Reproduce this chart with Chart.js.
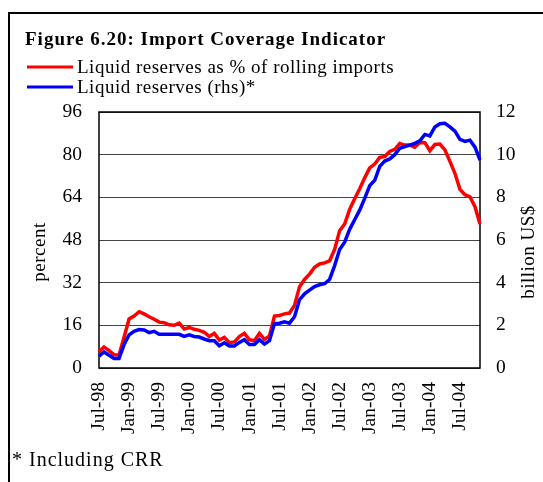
<!DOCTYPE html>
<html>
<head>
<meta charset="utf-8">
<script src="https://cdn.jsdelivr.net/npm/chart.js@4"></script>
<style>
body { margin: 0; background: #fff; }
#wrap { position: relative; width: 543px; height: 482px; overflow: hidden; }
#frame { position: absolute; left: 8px; top: 12px; width: 700px; height: 700px; border-top: 2px solid #000; border-left: 2px solid #000; }
canvas { position: absolute; left: 0; top: 0; }
</style>
</head>
<body>
<div id="wrap">
	<div id="frame"></div>
	<canvas id="coverageChart" width="543" height="482"></canvas>
</div>
<script>
// Data
const months = [
	'Jul-98','Aug-98','Sep-98','Oct-98','Nov-98','Dec-98',
	'Jan-99','Feb-99','Mar-99','Apr-99','May-99','Jun-99','Jul-99','Aug-99','Sep-99','Oct-99','Nov-99','Dec-99',
	'Jan-00','Feb-00','Mar-00','Apr-00','May-00','Jun-00','Jul-00','Aug-00','Sep-00','Oct-00','Nov-00','Dec-00',
	'Jan-01','Feb-01','Mar-01','Apr-01','May-01','Jun-01','Jul-01','Aug-01','Sep-01','Oct-01','Nov-01','Dec-01',
	'Jan-02','Feb-02','Mar-02','Apr-02','May-02','Jun-02','Jul-02','Aug-02','Sep-02','Oct-02','Nov-02','Dec-02',
	'Jan-03','Feb-03','Mar-03','Apr-03','May-03','Jun-03','Jul-03','Aug-03','Sep-03','Oct-03','Nov-03','Dec-03',
	'Jan-04','Feb-04','Mar-04','Apr-04','May-04','Jun-04','Jul-04','Aug-04','Sep-04','Oct-04','Nov-04'
];

// Liquid reserves as % of rolling imports (lhs, percent)
const coveragePct = [
	6.1, 7.9, 6.5, 5, 4.9, 11.5, 18.4, 19.5, 21.1, 20.3,
	19.2, 18.3, 17.2, 17, 16.2, 16, 16.8, 14.6, 15.2, 14.5,
	14.1, 13.4, 11.8, 13, 10.5, 11.5, 9.5, 9.8, 11.8, 13,
	10.6, 10.2, 13, 10.7, 12, 19.5, 19.7, 20.3, 20.6, 23.5,
	30.5, 33.2, 35.2, 37.8, 39, 39.4, 40.2, 44.5, 51.5, 54,
	59.5, 63.5, 67.2, 71.3, 75, 76.5, 79, 79.3, 81.2, 82,
	84.2, 83.6, 83.6, 82.8, 84.6, 84.5, 81.5, 83.8, 84, 81.8,
	77.5, 73, 67, 65, 64.2, 60.5, 54
];

// Liquid reserves (rhs, billion US$)
const reservesBn = [
	0.55, 0.75, 0.6, 0.45, 0.45, 1.1, 1.55, 1.72, 1.8, 1.78,
	1.66, 1.72, 1.58, 1.58, 1.58, 1.58, 1.58, 1.48, 1.55, 1.48,
	1.45, 1.36, 1.28, 1.28, 1.04, 1.18, 1.03, 1.03, 1.2, 1.33,
	1.1, 1.1, 1.33, 1.12, 1.28, 2.08, 2.1, 2.16, 2.1, 2.4,
	3.2, 3.48, 3.65, 3.82, 3.9, 3.95, 4.15, 4.8, 5.55, 5.9,
	6.5, 6.95, 7.4, 7.95, 8.55, 8.8, 9.45, 9.7, 9.8, 10.0,
	10.3, 10.38, 10.45, 10.53, 10.65, 10.95, 10.88, 11.3, 11.45, 11.47,
	11.3, 11.1, 10.72, 10.62, 10.68, 10.35, 9.75
];

const FONT = "'Liberation Serif', 'Times New Roman', serif";

// Title, legend, axis titles and footnote, all drawn on the canvas
const decor = {
	id: 'decor',
	beforeDatasetsDraw(chart) {
		const { ctx, chartArea: a } = chart;
		ctx.save();
		ctx.strokeStyle = '#000';
		ctx.lineWidth = 1.5;
		ctx.strokeRect(a.left, a.top, a.right - a.left, a.bottom - a.top);
		ctx.restore();
	},
	afterDraw(chart) {
		const { ctx, chartArea: a } = chart;
		ctx.save();
		ctx.fillStyle = '#000';
		ctx.textBaseline = 'alphabetic';

		ctx.font = 'bold 19px ' + FONT;
		ctx.letterSpacing = '1px';
		ctx.fillText('Figure 6.20: Import Coverage Indicator', 25, 45);

		// legend
		ctx.font = '19px ' + FONT;
		ctx.letterSpacing = '0.5px';
		chart.data.datasets.forEach((set, i) => {
			let y = 67 + i * 20;
			ctx.strokeStyle = set.borderColor;
			ctx.lineWidth = 3;
			ctx.beginPath();
			ctx.moveTo(27, y);
			ctx.lineTo(73, y);
			ctx.stroke();
			ctx.fillText(set.label, 77, y + 6);
		});

		// axis titles
		let midY = (a.top + a.bottom) / 2 + 12;
		ctx.textAlign = 'center';
		ctx.textBaseline = 'middle';
		ctx.save();
		ctx.translate(40, midY);
		ctx.rotate(-Math.PI / 2);
		ctx.fillText('percent', 0, 0);
		ctx.restore();
		ctx.save();
		ctx.translate(529, midY);
		ctx.rotate(-Math.PI / 2);
		ctx.fillText('billion US$', 0, 0);
		ctx.restore();

		ctx.textAlign = 'left';
		ctx.textBaseline = 'alphabetic';
		ctx.font = '20px ' + FONT;
		ctx.letterSpacing = '1px';
		ctx.fillText('* Including CRR', 12, 466);
		ctx.restore();
	}
};

new Chart(document.getElementById('coverageChart'), {
	type: 'line',
	data: {
		labels: months,
		datasets: [
			{
				label: 'Liquid reserves as % of rolling imports',
				data: coveragePct,
				borderColor: '#ff0000',
				yAxisID: 'y',
				order: 1,
			},
			{
				label: 'Liquid reserves (rhs)*',
				data: reservesBn,
				borderColor: '#0000ff',
				yAxisID: 'y1',
				order: 0,
			}
		]
	},
	options: {
		responsive: false,
		animation: false,
		devicePixelRatio: 1,
		elements: {
			line: { borderWidth: 3.5, tension: 0 },
			point: { radius: 0 }
		},
		layout: { padding: { left: 9, top: 112, right: 0, bottom: 0 } },
		plugins: {
			legend: { display: false },
			tooltip: { enabled: false }
		},
		scales: {
			x: {
				offset: false,
				grid: { display: false, drawTicks: false },
				border: { display: false },
				ticks: {
					autoSkip: false,
					maxRotation: 90,
					minRotation: 90,
					padding: 14,
					color: '#000',
					font: { family: FONT, size: 19.5 },
					callback: (val, idx) => (idx % 6 == 0 ? months[idx] : '')
				},
				afterFit: (s) => { s.height = 114; }
			},
			y: {
				position: 'left',
				min: 0,
				max: 96,
				grid: { color: '#444', lineWidth: 1, drawTicks: false },
				border: { display: false },
				ticks: {
					stepSize: 16,
					padding: 17,
					color: '#000',
					font: { family: FONT, size: 19.5 }
				},
				afterFit: (s) => { s.width = 90; }
			},
			y1: {
				position: 'right',
				min: 0,
				max: 12,
				grid: { display: false, drawTicks: false },
				border: { display: false },
				ticks: {
					stepSize: 2,
					padding: 16,
					color: '#000',
					font: { family: FONT, size: 19.5 }
				},
				afterFit: (s) => { s.width = 63; }
			}
		}
	},
	plugins: [decor]
});
</script>
</body>
</html>
